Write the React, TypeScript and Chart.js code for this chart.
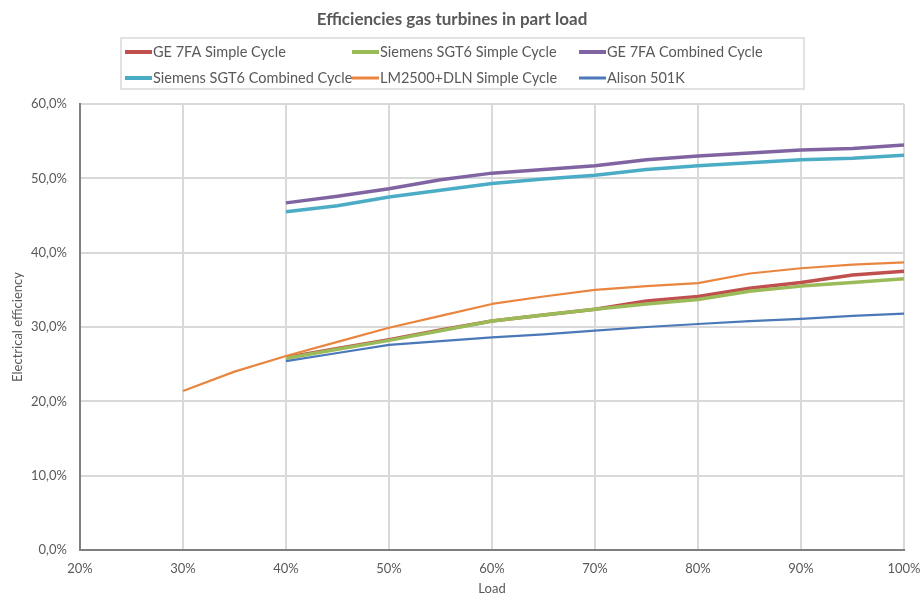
import React, { useEffect, useRef } from "react";
import { Chart, registerables } from "chart.js";

Chart.register(...registerables);

const chartTitle = "Efficiencies gas turbines in part load";
const xAxisTitle = "Load";
const yAxisTitle = "Electrical efficiency";

const seriesNames = [
  "GE 7FA Simple Cycle",
  "Siemens SGT6 Simple Cycle",
  "GE 7FA Combined Cycle",
  "Siemens SGT6 Combined Cycle",
  "LM2500+DLN Simple Cycle",
  "Alison 501K",
];
const seriesColors = ["#C0504D", "#9BBB59", "#8064A2", "#4BACC6", "#EA8540", "#4A78B8"];
const seriesWidths = [3.5, 3.5, 3.5, 3.5, 2.2, 2.2];

// Load levels (%)
const loadMain = [40, 45, 50, 55, 60, 65, 70, 75, 80, 85, 90, 95, 100];
const loadLM2500 = [30, 35, 40, 45, 50, 55, 60, 65, 70, 75, 80, 85, 90, 95, 100];

// Efficiencies (%)
const ge7faSimple = [25.9, 27.1, 28.3, 29.6, 30.8, 31.6, 32.4, 33.5, 34.1, 35.2, 36.0, 37.0, 37.5];
const sgt6Simple = [25.8, 27.0, 28.2, 29.5, 30.8, 31.6, 32.4, 33.1, 33.7, 34.8, 35.5, 36.0, 36.5];
const ge7faCombined = [46.7, 47.6, 48.6, 49.8, 50.7, 51.2, 51.7, 52.5, 53.0, 53.4, 53.8, 54.0, 54.5];
const sgt6Combined = [45.5, 46.3, 47.5, 48.4, 49.3, 49.9, 50.4, 51.2, 51.7, 52.1, 52.5, 52.7, 53.1];
const lm2500Simple = [21.4, 24.0, 26.1, 28.0, 29.9, 31.5, 33.1, 34.1, 35.0, 35.5, 35.9, 37.2, 37.9, 38.4, 38.7];
const alison501K = [25.4, 26.5, 27.6, 28.1, 28.6, 29.0, 29.5, 30.0, 30.4, 30.8, 31.1, 31.5, 31.8];

const xTicksMin = 20;
const xTicksMax = 100;
const xStep = 10;
const yTicksMin = 0;
const yTicksMax = 60;
const yStep = 10;

const FONT = "Lato, 'Open Sans', sans-serif";
const TEXT_COLOR = "#595959";

const seriesX = [loadMain, loadMain, loadMain, loadMain, loadLM2500, loadMain];
const seriesY = [ge7faSimple, sgt6Simple, ge7faCombined, sgt6Combined, lm2500Simple, alison501K];

const gridLegendPlugin = {
  id: "gridLegend",
  afterDraw(chart: any) {
    const ctx = chart.ctx;
    const boxL = 121, boxT = 38, boxR = 804, boxB = 89;
    const cols = [125, 352, 579];
    const rows = [52, 78];
    ctx.save();
    ctx.strokeStyle = "#d9d9d9";
    ctx.lineWidth = 1.5;
    ctx.strokeRect(boxL, boxT, boxR - boxL, boxB - boxT);
    ctx.font = `14.5px ${FONT}`;
    ctx.textBaseline = "middle";
    ctx.textAlign = "left";
    chart.data.datasets.forEach((ds: any, i: number) => {
      const x = cols[i % 3];
      const y = rows[Math.floor(i / 3)];
      ctx.strokeStyle = ds.borderColor;
      ctx.lineWidth = ds.borderWidth > 3 ? 4 : 3;
      ctx.lineCap = "butt";
      ctx.beginPath();
      ctx.moveTo(x, y);
      ctx.lineTo(x + 27, y);
      ctx.stroke();
      ctx.fillStyle = TEXT_COLOR;
      ctx.fillText(ds.label, x + 28, y);
    });
    ctx.restore();
  },
};

export default function App() {
  const canvasRef = useRef<HTMLCanvasElement | null>(null);

  useEffect(() => {
    if (!canvasRef.current) return;
    const datasets = seriesNames.map((name, i) => ({
      label: name,
      data: seriesX[i].map((x, j) => ({ x, y: seriesY[i][j] })),
      borderColor: seriesColors[i],
      backgroundColor: seriesColors[i],
      borderWidth: seriesWidths[i],
      pointRadius: 0,
      tension: 0,
      fill: false,
      order: seriesNames.length - i,
      borderJoinStyle: "round" as const,
    }));

    const chart = new Chart(canvasRef.current, {
      type: "line",
      data: { datasets },
      plugins: [gridLegendPlugin],
      options: {
        animation: false,
        responsive: false,
        maintainAspectRatio: false,
        layout: { padding: { left: 0, right: 20, top: 0, bottom: 0 } },
        plugins: {
          legend: { display: false },
          tooltip: { enabled: false },
          title: {
            display: true,
            text: chartTitle,
            color: TEXT_COLOR,
            font: { family: FONT, size: 17, weight: "bold" },
            padding: { top: 9, bottom: 74.6 },
          },
        },
        scales: {
          x: {
            type: "linear",
            min: xTicksMin,
            max: xTicksMax,
            ticks: {
              stepSize: xStep,
              color: TEXT_COLOR,
              font: { family: FONT, size: 13 },
              padding: 11,
              maxRotation: 0,
              callback: (v: any) => `${v}%`,
            },
            grid: { color: "#d9d9d9", lineWidth: 2, tickLength: 0 },
            border: { color: "#7f7f7f", width: 2 },
            title: {
              display: true,
              text: xAxisTitle,
              color: TEXT_COLOR,
              font: { family: FONT, size: 13 },
              padding: { top: 0, bottom: 0 },
            },
            afterFit: (scale: any) => {
              scale.height = 47;
              scale.paddingLeft = 0;
              scale.paddingRight = 0;
            },
          },
          y: {
            type: "linear",
            min: yTicksMin,
            max: yTicksMax,
            ticks: {
              stepSize: yStep,
              color: TEXT_COLOR,
              font: { family: FONT, size: 13 },
              padding: 13,
              callback: (v: any) => `${Number(v).toFixed(1).replace(".", ",")}%`,
            },
            grid: { color: "#d9d9d9", lineWidth: 2, tickLength: 0 },
            border: { color: "#7f7f7f", width: 2 },
            title: {
              display: true,
              text: yAxisTitle,
              color: TEXT_COLOR,
              font: { family: FONT, size: 13 },
              padding: { top: 10, bottom: 0 },
            },
            afterFit: (scale: any) => {
              scale.width = 80;
            },
          },
        },
      },
    } as any);

    return () => {
      chart.destroy();
    };
  }, []);

  return (
    <div style={{ position: "fixed", left: 0, top: 0, width: 924, height: 597, background: "#fff" }}>
      <canvas ref={canvasRef} width={924} height={597} style={{ width: 924, height: 597 }} />
    </div>
  );
}
